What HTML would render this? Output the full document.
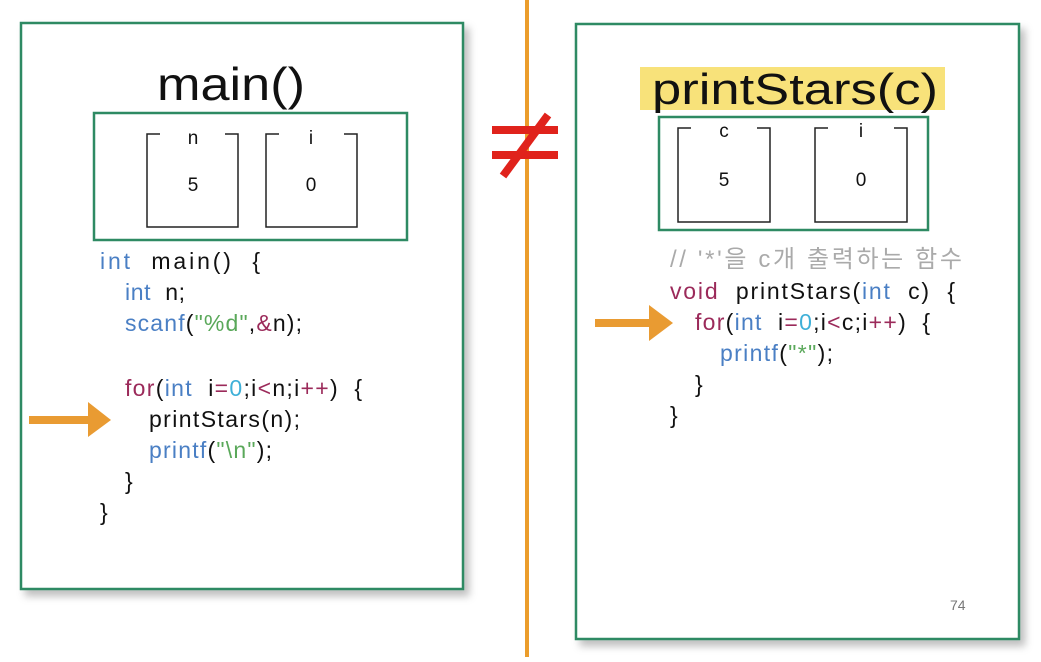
<!DOCTYPE html>
<html><head><meta charset="utf-8"><style>
body{margin:0;background:#fff;width:1041px;height:657px;overflow:hidden}
svg text{font-family:"Liberation Sans","Noto Sans CJK KR",sans-serif;white-space:pre}
</style></head><body>
<svg width="1041" height="657" xmlns="http://www.w3.org/2000/svg" xml:space="preserve">
<defs><filter id="sh" x="-5%" y="-5%" width="115%" height="115%"><feDropShadow dx="5" dy="6" stdDeviation="4" flood-color="#000" flood-opacity="0.25"/></filter></defs>
<rect x="21" y="23" width="442" height="566" fill="#fff" stroke="#2e8a63" stroke-width="2.5" filter="url(#sh)"/>
<rect x="576" y="24" width="443" height="615" fill="#fff" stroke="#2e8a63" stroke-width="2.5" filter="url(#sh)"/>
<rect x="525" y="0" width="4" height="657" fill="#eb9d2c"/>
<rect x="492" y="126" width="66" height="8" fill="#e0231c"/>
<rect x="492" y="151" width="66" height="8" fill="#e0231c"/>
<line x1="503" y1="176" x2="548" y2="115" stroke="#e0231c" stroke-width="8"/>
<text x="157" y="100" font-size="46" textLength="148" lengthAdjust="spacingAndGlyphs" fill="#111">main()</text>
<rect x="94" y="113" width="313" height="127" fill="none" stroke="#2e8a63" stroke-width="2.5"/>
<g fill="none" stroke="#222" stroke-width="1.5">
<path d="M160,134 H147 V227 H238 V134 H225"/>
<path d="M279,134 H266 V227 H357 V134 H344"/>
<path d="M691,128 H678 V222 H770 V128 H757"/>
<path d="M828,128 H815 V222 H907 V128 H894"/>
</g>
<g font-size="19" fill="#111" text-anchor="middle">
<text x="193" y="144">n</text><text x="311" y="144">i</text>
<text x="193" y="191">5</text><text x="311" y="191">0</text>
<text x="724" y="137">c</text><text x="861" y="137">i</text>
<text x="724" y="186">5</text><text x="861" y="186">0</text>
</g>
<rect x="640" y="67" width="305" height="43" fill="#f8e27a"/>
<text x="652" y="104" font-size="44" textLength="286" lengthAdjust="spacingAndGlyphs" fill="#111">printStars(c)</text>
<rect x="659" y="117" width="269" height="113" fill="none" stroke="#2e8a63" stroke-width="2.5"/>
<g font-size="23" fill="#111" lengthAdjust="spacingAndGlyphs">
<text x="100" y="269" textLength="160"><tspan fill="#4a7fc4">int</tspan>  main()  {</text>
<text x="125" y="300" textLength="60"><tspan fill="#4a7fc4">int</tspan>  n;</text>
<text x="125" y="331" textLength="177"><tspan fill="#4a7fc4">scanf</tspan>(<tspan fill="#5aa85a">"%d"</tspan>,<tspan fill="#9b2a5a">&amp;</tspan>n);</text>
<text x="125" y="396" textLength="237"><tspan fill="#9b2a5a">for</tspan>(<tspan fill="#4a7fc4">int</tspan>  i<tspan fill="#9b2a5a">=</tspan><tspan fill="#3fb0d8">0</tspan>;i<tspan fill="#9b2a5a">&lt;</tspan>n;i<tspan fill="#9b2a5a">++</tspan>)  {</text>
<text x="149" y="427" textLength="151">printStars(n);</text>
<text x="149" y="458" textLength="123"><tspan fill="#4a7fc4">printf</tspan>(<tspan fill="#5aa85a">"\n"</tspan>);</text>
<text x="125" y="489">}</text>
<text x="100" y="520">}</text>
</g>
<g font-size="23" fill="#111" lengthAdjust="spacingAndGlyphs">
<text x="670" y="267" fill="#aaa" font-size="24" textLength="292">// '*'을 c개 출력하는 함수</text>
<text x="670" y="299" textLength="285"><tspan fill="#9b2a5a">void</tspan>  printStars(<tspan fill="#4a7fc4">int</tspan>  c)  {</text>
<text x="695" y="330" textLength="235"><tspan fill="#9b2a5a">for</tspan>(<tspan fill="#4a7fc4">int</tspan>  i<tspan fill="#9b2a5a">=</tspan><tspan fill="#3fb0d8">0</tspan>;i<tspan fill="#9b2a5a">&lt;</tspan>c;i<tspan fill="#9b2a5a">++</tspan>)  {</text>
<text x="720" y="361" textLength="113"><tspan fill="#4a7fc4">printf</tspan>(<tspan fill="#5aa85a">"*"</tspan>);</text>
<text x="695" y="392">}</text>
<text x="670" y="423">}</text>
</g>
<text x="950" y="610" font-size="14" fill="#777">74</text>
<g fill="#e99b32">
<rect x="29" y="416" width="62" height="8"/>
<polygon points="88,402 111,420 88,437"/>
<rect x="595" y="319" width="56" height="8"/>
<polygon points="649,305 673,323 649,341"/>
</g>
</svg>
</body></html>
